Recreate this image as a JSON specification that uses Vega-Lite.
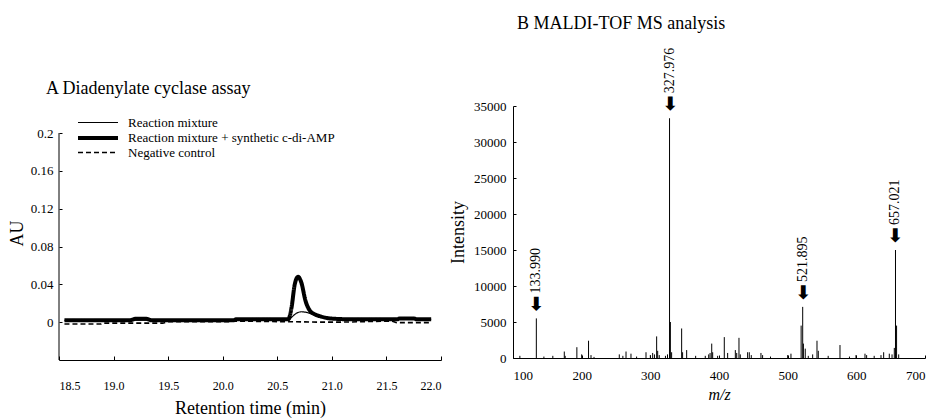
{
  "$schema": "https://vega.github.io/schema/vega-lite/v6.json",
  "autosize": {"type": "pad"},
  "padding": {"left": 8, "top": 14, "right": 5, "bottom": 2},
  "background": "white",
  "config": {
    "view": {"stroke": null},
    "font": "Liberation Serif",
    "axis": {
      "grid": false,
      "domainColor": "black",
      "tickColor": "black",
      "labelColor": "black",
      "titleColor": "black",
      "labelFont": "Liberation Serif",
      "titleFont": "Liberation Serif",
      "titleFontWeight": "normal",
      "labelFontSize": 13,
      "titleFontSize": 18,
      "labelOverlap": false
    },
    "legend": {"labelFont": "Liberation Serif", "labelColor": "black"},
    "title": {"font": "Liberation Serif", "fontWeight": "normal", "color": "black", "fontSize": 18}
  },
  "datasets": {
    "hplc": [
      {"time": 18.55, "au": 0.002, "series": "Reaction mixture"},
      {"time": 19.0, "au": 0.002, "series": "Reaction mixture"},
      {"time": 19.5, "au": 0.0022, "series": "Reaction mixture"},
      {"time": 20.0, "au": 0.002, "series": "Reaction mixture"},
      {"time": 20.5, "au": 0.002, "series": "Reaction mixture"},
      {"time": 20.6, "au": 0.002, "series": "Reaction mixture"},
      {"time": 20.63, "au": 0.005, "series": "Reaction mixture"},
      {"time": 20.67, "au": 0.009, "series": "Reaction mixture"},
      {"time": 20.72, "au": 0.011, "series": "Reaction mixture"},
      {"time": 20.78, "au": 0.010, "series": "Reaction mixture"},
      {"time": 20.85, "au": 0.007, "series": "Reaction mixture"},
      {"time": 20.92, "au": 0.005, "series": "Reaction mixture"},
      {"time": 21.0, "au": 0.003, "series": "Reaction mixture"},
      {"time": 21.5, "au": 0.003, "series": "Reaction mixture"},
      {"time": 21.91, "au": 0.003, "series": "Reaction mixture"},
      {"time": 18.55, "au": 0.002, "series": "Reaction mixture + synthetic c-di-AMP"},
      {"time": 19.15, "au": 0.002, "series": "Reaction mixture + synthetic c-di-AMP"},
      {"time": 19.2, "au": 0.0035, "series": "Reaction mixture + synthetic c-di-AMP"},
      {"time": 19.3, "au": 0.0035, "series": "Reaction mixture + synthetic c-di-AMP"},
      {"time": 19.35, "au": 0.002, "series": "Reaction mixture + synthetic c-di-AMP"},
      {"time": 20.1, "au": 0.002, "series": "Reaction mixture + synthetic c-di-AMP"},
      {"time": 20.12, "au": 0.003, "series": "Reaction mixture + synthetic c-di-AMP"},
      {"time": 20.6, "au": 0.003, "series": "Reaction mixture + synthetic c-di-AMP"},
      {"time": 20.63, "au": 0.015, "series": "Reaction mixture + synthetic c-di-AMP"},
      {"time": 20.66, "au": 0.040, "series": "Reaction mixture + synthetic c-di-AMP"},
      {"time": 20.69, "au": 0.048, "series": "Reaction mixture + synthetic c-di-AMP"},
      {"time": 20.72, "au": 0.042, "series": "Reaction mixture + synthetic c-di-AMP"},
      {"time": 20.76, "au": 0.022, "series": "Reaction mixture + synthetic c-di-AMP"},
      {"time": 20.8, "au": 0.012, "series": "Reaction mixture + synthetic c-di-AMP"},
      {"time": 20.85, "au": 0.008, "series": "Reaction mixture + synthetic c-di-AMP"},
      {"time": 20.9, "au": 0.006, "series": "Reaction mixture + synthetic c-di-AMP"},
      {"time": 20.98, "au": 0.004, "series": "Reaction mixture + synthetic c-di-AMP"},
      {"time": 21.2, "au": 0.003, "series": "Reaction mixture + synthetic c-di-AMP"},
      {"time": 21.6, "au": 0.003, "series": "Reaction mixture + synthetic c-di-AMP"},
      {"time": 21.62, "au": 0.004, "series": "Reaction mixture + synthetic c-di-AMP"},
      {"time": 21.75, "au": 0.004, "series": "Reaction mixture + synthetic c-di-AMP"},
      {"time": 21.78, "au": 0.003, "series": "Reaction mixture + synthetic c-di-AMP"},
      {"time": 21.91, "au": 0.003, "series": "Reaction mixture + synthetic c-di-AMP"},
      {"time": 18.55, "au": -0.002, "series": "Negative control"},
      {"time": 18.88, "au": -0.002, "series": "Negative control"},
      {"time": 18.9, "au": -0.001, "series": "Negative control"},
      {"time": 19.45, "au": -0.001, "series": "Negative control"},
      {"time": 19.5, "au": 0.0005, "series": "Negative control"},
      {"time": 20.05, "au": 0.0005, "series": "Negative control"},
      {"time": 20.1, "au": 0.001, "series": "Negative control"},
      {"time": 20.6, "au": 0.0005, "series": "Negative control"},
      {"time": 21.0, "au": 0.0, "series": "Negative control"},
      {"time": 21.55, "au": 0.001, "series": "Negative control"},
      {"time": 21.6, "au": -0.0005, "series": "Negative control"},
      {"time": 21.91, "au": -0.0005, "series": "Negative control"}
    ],
    "ms": [
      {"mz": 110, "intensity": 300},
      {"mz": 133.99, "intensity": 5500},
      {"mz": 145, "intensity": 200},
      {"mz": 158, "intensity": 300},
      {"mz": 174.7, "intensity": 900},
      {"mz": 176, "intensity": 300},
      {"mz": 193, "intensity": 1500},
      {"mz": 200, "intensity": 500},
      {"mz": 210, "intensity": 2400},
      {"mz": 213.6, "intensity": 400},
      {"mz": 218, "intensity": 150},
      {"mz": 254.8, "intensity": 500},
      {"mz": 260, "intensity": 300},
      {"mz": 264.6, "intensity": 900},
      {"mz": 271.8, "intensity": 600},
      {"mz": 280, "intensity": 200},
      {"mz": 293.7, "intensity": 800},
      {"mz": 300, "intensity": 400},
      {"mz": 303.4, "intensity": 700},
      {"mz": 306, "intensity": 500},
      {"mz": 309.2, "intensity": 3000},
      {"mz": 310.7, "intensity": 1000},
      {"mz": 313, "intensity": 400},
      {"mz": 322, "intensity": 300},
      {"mz": 325, "intensity": 500},
      {"mz": 327.976, "intensity": 33300},
      {"mz": 329.2, "intensity": 5000},
      {"mz": 331, "intensity": 800},
      {"mz": 345.6, "intensity": 4100},
      {"mz": 347, "intensity": 800},
      {"mz": 352.9, "intensity": 1100},
      {"mz": 366, "intensity": 300},
      {"mz": 380, "intensity": 300},
      {"mz": 385, "intensity": 500},
      {"mz": 387, "intensity": 700},
      {"mz": 389.4, "intensity": 2000},
      {"mz": 390.8, "intensity": 800},
      {"mz": 398, "intensity": 300},
      {"mz": 407.7, "intensity": 2900},
      {"mz": 412.6, "intensity": 700},
      {"mz": 423.8, "intensity": 1100},
      {"mz": 425.8, "intensity": 700},
      {"mz": 429.1, "intensity": 2800},
      {"mz": 431, "intensity": 500},
      {"mz": 441.7, "intensity": 800},
      {"mz": 444.1, "intensity": 800},
      {"mz": 447, "intensity": 400},
      {"mz": 461.1, "intensity": 700},
      {"mz": 463.5, "intensity": 400},
      {"mz": 475, "intensity": 200},
      {"mz": 500, "intensity": 400},
      {"mz": 504.8, "intensity": 600},
      {"mz": 519.6, "intensity": 4500},
      {"mz": 521.895, "intensity": 7100},
      {"mz": 522.9, "intensity": 2000},
      {"mz": 525.6, "intensity": 1300},
      {"mz": 530, "intensity": 300},
      {"mz": 536.4, "intensity": 500},
      {"mz": 542.7, "intensity": 2400},
      {"mz": 544.6, "intensity": 1000},
      {"mz": 559, "intensity": 300},
      {"mz": 576.2, "intensity": 1800},
      {"mz": 590, "intensity": 200},
      {"mz": 599.5, "intensity": 400},
      {"mz": 612.6, "intensity": 600},
      {"mz": 615, "intensity": 400},
      {"mz": 626, "intensity": 300},
      {"mz": 635.9, "intensity": 400},
      {"mz": 639.8, "intensity": 800},
      {"mz": 648, "intensity": 600},
      {"mz": 652, "intensity": 500},
      {"mz": 655.3, "intensity": 1400},
      {"mz": 657.021, "intensity": 15000},
      {"mz": 658.6, "intensity": 4500},
      {"mz": 661.7, "intensity": 500}
    ],
    "peaks": [
      {"mz": 133.99, "intensity": 5500, "label": "133.990"},
      {"mz": 327.976, "intensity": 33300, "label": "327.976"},
      {"mz": 521.895, "intensity": 7100, "label": "521.895"},
      {"mz": 657.021, "intensity": 15000, "label": "657.021"}
    ]
  },
  "hconcat": [
    {
      "width": 382,
      "height": 254,
      "title": {"text": "A Diadenylate cyclase assay", "anchor": "start", "frame": "group", "dx": -13, "offset": 8},
      "layer": [
        {
          "data": {"values": [{}]},
          "mark": {"type": "rule", "color": "black", "strokeWidth": 1},
          "encoding": {
            "x": {"datum": 18.5, "type": "quantitative"},
            "y": {"datum": -0.04, "type": "quantitative"},
            "y2": {"datum": 0.2}
          }
        },
        {
          "data": {"name": "hplc"},
          "mark": {"type": "line", "color": "black", "interpolate": "monotone"},
          "encoding": {
            "x": {
              "field": "time", "type": "quantitative",
              "scale": {"domain": [18.5, 22], "nice": false, "zero": false},
              "axis": {"values": [18.5, 19, 19.5, 20, 20.5, 21, 21.5, 22], "format": ".1f", "title": "Retention time (min)", "tickSize": -4, "labelPadding": 24, "titlePadding": 8, "labelFontSize": 12}
            },
            "y": {
              "field": "au", "type": "quantitative",
              "scale": {"domain": [-0.04, 0.2286], "nice": false, "zero": false},
              "axis": {"values": [0, 0.04, 0.08, 0.12, 0.16, 0.2], "format": "~g", "title": "AU", "domain": false, "tickSize": -3, "labelPadding": 9, "titlePadding": 4}
            },
            "strokeWidth": {
              "field": "series", "type": "ordinal",
              "scale": {"type": "ordinal", "domain": ["Reaction mixture", "Reaction mixture + synthetic c-di-AMP", "Negative control"], "range": [1.2, 4, 1.6]},
              "legend": {"title": null, "orient": "none", "legendX": 32, "legendY": 10, "padding": 0, "symbolType": "M-4,0H4", "symbolSize": 100, "symbolStrokeColor": "black", "labelFontSize": 13, "rowPadding": 0, "labelOffset": 23, "labelLimit": 0}
            },
            "strokeDash": {
              "field": "series", "type": "ordinal",
              "scale": {"domain": ["Reaction mixture", "Reaction mixture + synthetic c-di-AMP", "Negative control"], "range": [[1, 0], [1, 0], [5, 3]]},
              "legend": {"title": null, "orient": "none", "legendX": 32, "legendY": 10, "padding": 0, "symbolType": "M-4,0H4", "symbolSize": 100, "symbolStrokeColor": "black", "labelFontSize": 13, "rowPadding": 0, "labelOffset": 23, "labelLimit": 0}
            }
          }
        }
      ]
    },
    {
      "width": 412,
      "height": 252,
      "title": {"text": "B MALDI-TOF MS analysis", "anchor": "start", "frame": "group", "dx": 4, "offset": 15},
      "encoding": {
        "x": {
          "field": "mz", "type": "quantitative",
          "scale": {"domain": [100, 700], "nice": false, "zero": false},
          "axis": {"values": [100, 200, 300, 400, 500, 600, 700], "title": "m/z", "titleFontStyle": "italic", "titleFontSize": 16, "tickSize": -3, "labelPadding": 14, "titlePadding": 4}
        },
        "y": {
          "field": "intensity", "type": "quantitative",
          "scale": {"domain": [0, 35000], "nice": false},
          "axis": {"values": [0, 5000, 10000, 15000, 20000, 25000, 30000, 35000], "format": "d", "title": "Intensity", "tickSize": -3, "labelPadding": 10, "titlePadding": 6, "labelFontSize": 13, "labelOverlap": false}
        }
      },
      "layer": [
        {
          "data": {"name": "ms"},
          "mark": {"type": "rule", "color": "black", "strokeWidth": 1},
          "encoding": {
            "y2": {"datum": 0}
          }
        },
        {
          "data": {"name": "peaks"},
          "mark": {"type": "text", "text": "⬅", "angle": 270, "align": "left", "baseline": "middle", "fontSize": 19, "fontWeight": "bold", "font": "DejaVu Sans", "yOffset": -7, "color": "black"},
          "encoding": {}
        },
        {
          "data": {"name": "peaks"},
          "mark": {"type": "text", "angle": 270, "align": "left", "baseline": "middle", "fontSize": 14, "yOffset": -25, "color": "black"},
          "encoding": {
            "text": {"field": "label"}
          }
        }
      ]
    }
  ],
  "spacing": 72,
  "bounds": "flush"
}
